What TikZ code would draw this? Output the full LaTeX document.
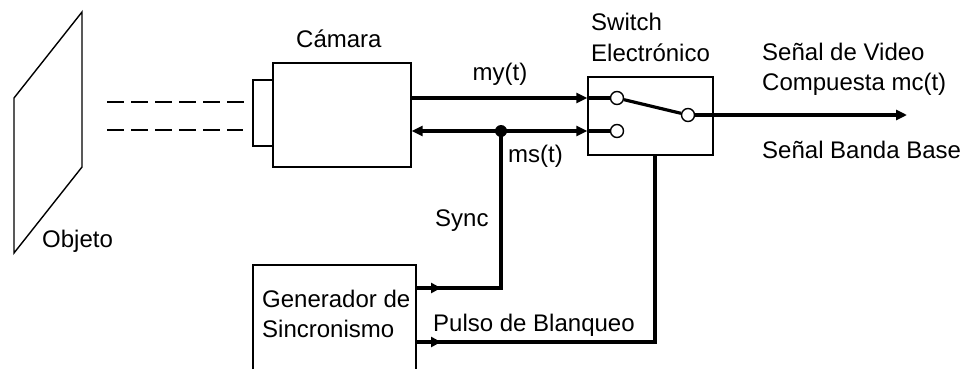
\documentclass[tikz,border=0pt]{standalone}
\usepackage{fontspec}
\setmainfont{Liberation Sans}
\usetikzlibrary{arrows.meta,decorations.markings}
\begin{document}
\begin{tikzpicture}[x=1pt,y=-1pt,
  thin line/.style={line width=1.4pt},
  wire/.style={line width=3.2pt},
  tip/.style={-{Triangle[length=11pt,width=10pt]}},
  lbl/.style={font=\fontsize{24}{30}\selectfont, inner sep=0pt, anchor=base west, align=left},
  boxnode/.style={draw, thin line, inner sep=0pt},
  contact/.style={circle, draw, thin line, fill=white, minimum size=13pt, inner sep=0pt},
  midtip/.style={postaction={decorate}, decoration={markings, mark=at position 25pt with {\arrow{Triangle[length=10pt,width=10pt]}}}}
]
\useasboundingbox (0,0) rectangle (973,369);

% Object
\draw[thin line] (14,98) -- (82,12) -- (82,167) -- (14,253) -- cycle;
\node[lbl] (objl) at (42,247) {Objeto};

% Dashed rays
\draw[thin line, dash pattern=on 17pt off 7pt] (107,102) -- (248,102);
\draw[thin line, dash pattern=on 17pt off 7pt] (107,130) -- (243,130);

% Camera
\node[boxnode, minimum width=138pt, minimum height=104pt] (cam) at (342,115) {};
\draw[thin line] (cam.north west |- 0,80) -- (253,80) -- (253,146) -- (cam.south west |- 0,146);
\node[lbl] (caml) at (296,48) {Cámara};

% Switch
\node[boxnode, minimum width=125pt, minimum height=78pt] (sw) at (650.5,116) {};
\node[lbl] (swl) at (591,61) {Switch\\Electrónico};
\node[contact] (c1) at (617,98) {};
\node[contact] (c2) at (617,131) {};
\node[contact] (c3) at (688,115) {};
\draw[wire] (c1) -- (c3);

% Junction and generator
\coordinate (j) at (501,131);
\coordinate (syncc) at (501,288);
\coordinate (bl) at (655,342);
\coordinate (out) at (907,115);
\draw[thin line] (253,369) -- (253,265) -- (416,265) -- (416,369);
\coordinate (genS) at (416,288);
\coordinate (genB) at (416,342);
\node[lbl] (genl) at (262,337) {Generador de\\Sincronismo};

% Wires
\draw[wire, tip] (cam.east |- c1) -- (sw.west |- c1);
\draw[wire] (sw.west |- c1) -- (c1.west);
\draw[wire, {Triangle[length=11pt,width=10pt]}-{Triangle[length=11pt,width=10pt]}] (cam.east |- c2) -- (sw.west |- c2);
\draw[wire] (sw.west |- c2) -- (c2.west);
\draw[wire, tip] (c3.east) -- (out);
\draw[wire, midtip] (genS) -- (syncc) -- (j);
\draw[wire, midtip] (genB) -- (bl) -- (sw.south -| bl);
\fill (j) circle (6pt);

% Labels
\node[lbl, anchor=base] (myl) at (500,80) {my(t)};
\node[lbl] (msl) at (508,162) {ms(t)};
\node[lbl] (syncl) at (435,226) {Sync};
\node[lbl] (pbl) at (433,331) {Pulso de Blanqueo};
\node[lbl] (vidl) at (762,90) {Señal de Video\\Compuesta mc(t)};
\node[lbl] (bbl) at (762,158) {Señal Banda Base};
\end{tikzpicture}
\end{document}
